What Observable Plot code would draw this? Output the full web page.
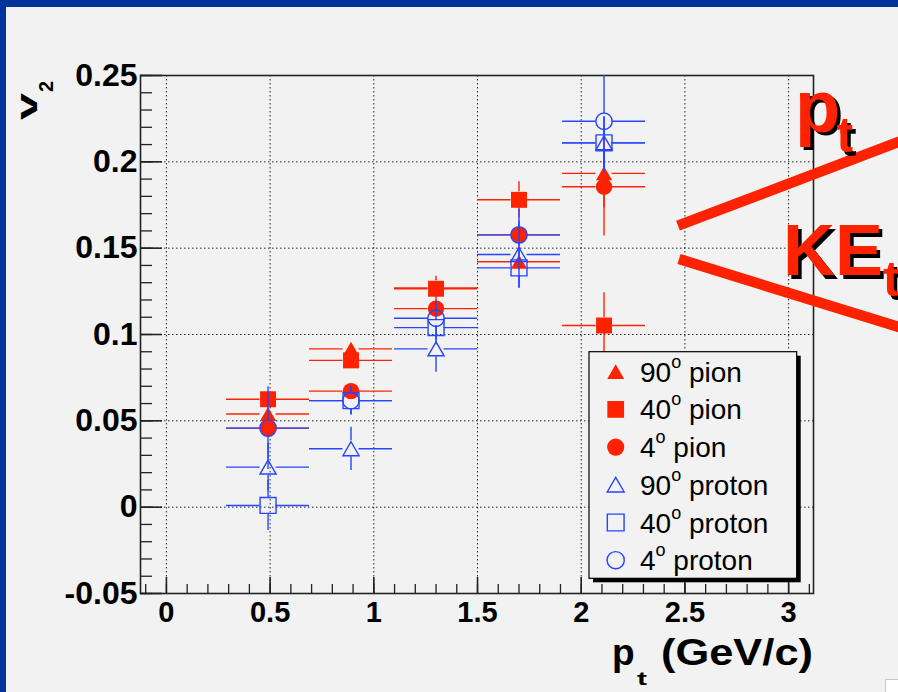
<!DOCTYPE html>
<html>
<head>
<meta charset="utf-8">
<script src="https://cdn.jsdelivr.net/npm/d3@7"></script>
<script src="https://cdn.jsdelivr.net/npm/@observablehq/plot@0.6"></script>
<style>
  html, body { margin: 0; padding: 0; width: 898px; height: 692px; overflow: hidden; background: #f2f2f2; }
  #chart { position: absolute; left: 0; top: 0; }
  .band-top { position: absolute; left: 0; top: 0; width: 898px; height: 7px; background: #003399; }
  .band-left { position: absolute; left: 0; top: 0; width: 6px; height: 692px; background: #003399; }
  .corner { position: absolute; left: 885px; top: 679px; width: 13px; height: 13px; background: #fff; border-left: 1px solid #c8c8c8; border-top: 1px solid #c8c8c8; }
</style>
</head>
<body>
<div id="chart"></div>
<div class="band-top"></div>
<div class="band-left"></div>
<div class="corner"></div>
<script>
// pt bins (mean pt of each bin) and the half width of the bins
const ptBins = [0.49, 0.89, 1.30, 1.70, 2.11];
const ptHalfWidth = 0.2;

// series labels, in drawing order
const seriesNames = ["90° pion", "40° pion", "4° pion", "90° proton", "40° proton", "4° proton"];

// v2 values and their statistical errors
const pion90 = [0.054, 0.0917, 0.127, 0.1421, 0.1933];
const pion90Err = [0.004, 0.004, 0.005, 0.005, 0.02];
const pion40 = [0.0625, 0.085, 0.1265, 0.178, 0.1052];
const pion40Err = [0.004, 0.004, 0.0073, 0.0105, 0.019];
const pion4 = [0.0458, 0.0672, 0.115, 0.1577, 0.1856];
const pion4Err = [0.004, 0.004, 0.005, 0.005, 0.0286];
const proton90 = [0.0232, 0.0338, 0.0917, 0.1463, 0.211];
const proton90Err = [0.014, 0.0125, 0.0135, 0.0195, 0.015];
const proton40 = [0.001, 0.0617, 0.104, 0.1386, 0.211];
const proton40Err = [0.0145, 0.008, 0.01, 0.0116, 0.015];
const proton4 = [0.0458, 0.0617, 0.1094, 0.1577, 0.2235];
const proton4Err = [0.024, 0.0085, 0.01, 0.015, 0.03];

// axis ticks
const xMajor = [0, 0.5, 1, 1.5, 2, 2.5, 3];
const xMinor = d3.range(-1, 32).map(d => d / 10);
const yMajor = [-0.05, 0, 0.05, 0.1, 0.15, 0.2, 0.25];
const yMinor = d3.range(-5, 26).map(d => d / 100);

const seriesValues = [pion90, pion40, pion4, proton90, proton40, proton4];
const seriesErrors = [pion90Err, pion40Err, pion4Err, proton90Err, proton40Err, proton4Err];

const RED = "#ff2200", BLUE = "#2545ff";
const seriesStyle = [
  {symbol: "triangle", color: RED, filled: true},
  {symbol: "square", color: RED, filled: true},
  {symbol: "circle", color: RED, filled: true},
  {symbol: "triangle", color: BLUE, filled: false},
  {symbol: "square", color: BLUE, filled: false},
  {symbol: "circle", color: BLUE, filled: false}
];
const markerR = {triangle: 6, square: 9, circle: 8.2};
const markerDy = {triangle: 2.3, square: 0, circle: 0};

const W = 898, H = 692, mL = 140, mR = 85, mT = 75, mB = 99;
const frameW = W - mL - mR, frameH = H - mT - mB;
const yDomain = [-0.05, 0.25], xDomain = [-0.125, 3.12];
const pxPerV = frameH / (yDomain[1] - yDomain[0]);
const gap = 8;
const FONT = "'Liberation Sans', Arial, Helvetica, sans-serif";

const rows = seriesNames.flatMap((name, s) =>
  ptBins.map((x, i) => ({series: name, s, x, y: seriesValues[s][i], e: seriesErrors[s][i]})));

const marks = [
  Plot.gridX(xMajor, {stroke: "#000", strokeOpacity: 0.85, strokeWidth: 1, strokeDasharray: "1.5,2.5"}),
  Plot.gridY(yMajor, {stroke: "#000", strokeOpacity: 0.85, strokeWidth: 1, strokeDasharray: "1.5,2.5"}),
  // ticks drawn inside the frame
  Plot.ruleY(yMinor, {y: d => d, insetRight: frameW - 12, stroke: "#222", strokeWidth: 1.3}),
  Plot.ruleY(yMajor, {y: d => d, insetRight: frameW - 22, stroke: "#222", strokeWidth: 1.6}),
  Plot.ruleX(xMinor, {x: d => d, insetTop: frameH - 9, stroke: "#222", strokeWidth: 1.3}),
  Plot.ruleX(xMajor, {x: d => d, insetTop: frameH - 16, stroke: "#222", strokeWidth: 1.6}),
  Plot.frame({stroke: "#222", strokeWidth: 1.6})
];

seriesNames.forEach((name, s) => {
  const st = seriesStyle[s];
  const d = rows.filter(r => r.s === s);
  const dv = d.filter(r => r.e * pxPerV > gap);
  const line = {stroke: st.color, strokeWidth: 1.4, clip: true};
  marks.push(
    Plot.ruleY(d, {y: "y", x1: r => r.x - ptHalfWidth, x2: "x", insetRight: gap, ...line}),
    Plot.ruleY(d, {y: "y", x1: "x", x2: r => r.x + ptHalfWidth, insetLeft: gap, ...line}),
    Plot.ruleX(dv, {x: "x", y1: r => r.y + r.e, y2: "y", insetBottom: gap, ...line}),
    Plot.ruleX(dv, {x: "x", y1: "y", y2: r => r.y - r.e, insetTop: gap, ...line}),
    Plot.dot(d, {
      x: "x", y: "y", symbol: st.symbol, r: markerR[st.symbol], dy: markerDy[st.symbol],
      fill: st.filled ? st.color : "none", stroke: st.filled ? "none" : st.color, strokeWidth: 1.4
    })
  );
});

marks.push(
  Plot.axisY({ticks: yMajor, tickSize: 0, tickPadding: 3, fontSize: 32, fontWeight: "bold",
    fontFamily: FONT, fill: "#000", tickFormat: d => String(d), label: null}),
  Plot.axisX({ticks: xMajor, tickSize: 0, tickPadding: 8, fontSize: 29, fontWeight: "bold",
    fontFamily: FONT, fill: "#000", tickFormat: d => String(d), label: null})
);

const plot = Plot.plot({
  width: W, height: H,
  marginLeft: mL, marginRight: mR, marginTop: mT, marginBottom: mB,
  x: {domain: xDomain},
  y: {domain: yDomain},
  style: {background: "transparent", fontFamily: FONT, color: "#000"},
  marks
});

const svg = d3.select(plot);
const deco = svg.append("g").attr("text-anchor", "start").attr("font-family", FONT);

// axis titles
deco.append("text").attr("x", 612).attr("y", 665).attr("font-size", 37).attr("font-weight", "bold").text("p");
deco.append("text").attr("x", 637).attr("y", 685).attr("font-size", 18).attr("font-weight", "bold")
  .attr("textLength", 10).attr("lengthAdjust", "spacingAndGlyphs").text("t");
deco.append("text").attr("x", 661).attr("y", 665).attr("font-size", 37).attr("font-weight", "bold")
  .attr("textLength", 152).attr("lengthAdjust", "spacingAndGlyphs").text("(GeV/c)");

deco.append("text").attr("transform", "translate(37,120) rotate(-90)").attr("font-size", 29)
  .attr("font-weight", "bold").attr("textLength", 27).attr("lengthAdjust", "spacingAndGlyphs").text("v");
deco.append("text").attr("transform", "translate(53,92) rotate(-90)").attr("font-size", 20)
  .attr("font-weight", "bold").text("2");

// legend
const lx = 589, ly = 351.7, lw = 207.7, lh = 226.6;
const lg = deco.append("g");
lg.append("rect").attr("x", lx + 4).attr("y", ly + 4).attr("width", lw).attr("height", lh).attr("fill", "#000");
lg.append("rect").attr("x", lx).attr("y", ly).attr("width", lw).attr("height", lh)
  .attr("fill", "#f2f2f2").attr("stroke", "#000").attr("stroke-width", 1.2);
const symbolType = {triangle: d3.symbolTriangle, square: d3.symbolSquare, circle: d3.symbolCircle};
seriesNames.forEach((name, s) => {
  const st = seriesStyle[s];
  const cy = 371.7 + s * 37.7;
  const r = markerR[st.symbol] * 1.05;
  lg.append("path")
    .attr("transform", `translate(615.7,${cy + markerDy[st.symbol]})`)
    .attr("d", d3.symbol(symbolType[st.symbol], Math.PI * r * r)())
    .attr("fill", st.filled ? st.color : "none")
    .attr("stroke", st.filled ? "none" : st.color).attr("stroke-width", 1.4);
  const [angle, particle] = name.split("° ");
  const t = lg.append("text").attr("x", 640).attr("y", cy + 10).attr("font-size", 28).attr("fill", "#000");
  t.append("tspan").text(angle);
  t.append("tspan").attr("font-size", 18).attr("dy", -14).text("o");
  t.append("tspan").attr("dy", 14).text(" " + particle);
});

// pt / KEt annotation
const ann = deco.append("g");
ann.append("line").attr("x1", 678).attr("y1", 225.7).attr("x2", 905).attr("y2", 139.5)
  .attr("stroke", RED).attr("stroke-width", 10.5);
ann.append("line").attr("x1", 679).attr("y1", 259).attr("x2", 905).attr("y2", 329)
  .attr("stroke", RED).attr("stroke-width", 10.5);
function shadowText(x, y, size, str) {
  [["#000", 3.5], [RED, 0]].forEach(([c, o]) => {
    ann.append("text").attr("x", x + o).attr("y", y + o).attr("font-size", size)
      .attr("font-weight", "bold").attr("fill", c).text(str);
  });
}
shadowText(795, 131.7, 74, "p");
shadowText(836.5, 152, 50, "t");
shadowText(783, 275, 72, "KE");
shadowText(883, 296, 50, "t");

document.getElementById("chart").appendChild(plot);
</script>
</body>
</html>
